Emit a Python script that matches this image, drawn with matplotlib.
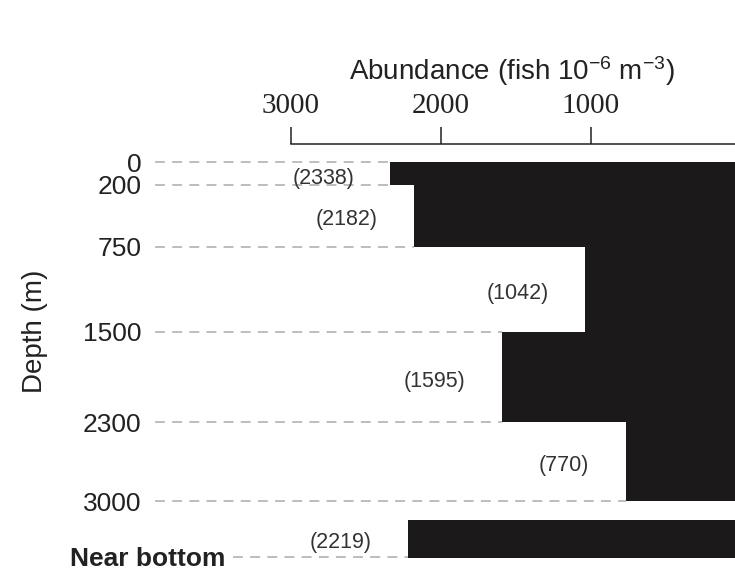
import matplotlib
matplotlib.use('Agg')
import matplotlib.pyplot as plt
import matplotlib.transforms as mtransforms
import numpy as np

# ── Data ──────────────────────────────────────────────────────────────────────
DEPTH_EDGES = [0, 200, 750, 1500, 2300, 3000]        # layer boundaries (m)
ABUNDANCE = [2338, 2182, 1042, 1595, 770]            # fish 10^-6 m^-3 per layer
NEAR_BOTTOM_ABUNDANCE = 2219
TOP_TICKS = [3000, 2000, 1000]
DEPTH_TICK_LABELS = ['0', '200', '750', '1500', '2300', '3000']
NEAR_BOTTOM_LABEL = 'Near bottom'

# ── Layout / style ────────────────────────────────────────────────────────────
NB_TICK = 3490            # where the near-bottom row sits on the depth axis
NB_BAR = (3165, 3500)     # vertical extent of the near-bottom bar
NB_TEXT_X = 3440          # right edge of the near-bottom label (data units)
LINE_START = 3905
BAR_COLOR = '#1b1919'
GRID_COLOR = '#b8b8b8'
TEXT_COLOR = '#222222'
SANS = 'Liberation Sans'
SERIF = 'Liberation Serif'

plt.rcParams['font.family'] = SANS
plt.rcParams['mathtext.fontset'] = 'custom'
plt.rcParams['mathtext.rm'] = SANS
plt.rcParams['mathtext.it'] = SANS + ':italic'
plt.rcParams['mathtext.bf'] = SANS + ':bold'

W, H = 735, 587
fig = plt.figure(figsize=(W / 100, H / 100), dpi=100)
ax = fig.add_axes([150 / W, 1 - 569 / H, 585 / W, 425 / H])

ax.set_xlim(3940, 40)
ax.set_ylim(3600, -160)

# layered profile bars, drawn from zero toward larger abundance
edges = np.array(DEPTH_EDGES, dtype=float)
centers = (edges[:-1] + edges[1:]) / 2
heights = np.diff(edges)
ax.barh(centers, ABUNDANCE, height=heights, left=0, color=BAR_COLOR,
        edgecolor='none', zorder=2)
nb_center = sum(NB_BAR) / 2
ax.barh([nb_center], [NEAR_BOTTOM_ABUNDANCE], height=NB_BAR[1] - NB_BAR[0],
        left=0, color=BAR_COLOR, edgecolor='none', zorder=2)

# dashed leader lines from each depth label to the bar edge
dash = dict(color=GRID_COLOR, lw=1.3, linestyle=(0, (5.5, 4.0)), zorder=1)
for i, d in enumerate(DEPTH_EDGES):
    adj = [ABUNDANCE[j] for j in (i - 1, i) if 0 <= j < len(ABUNDANCE)]
    ax.plot([LINE_START, max(adj)], [d, d], **dash)
ax.plot([NB_TEXT_X - 50, NEAR_BOTTOM_ABUNDANCE], [NB_TICK, NB_TICK], **dash)

# value labels in parentheses, to the left of each bar
label_y = list(centers) + [nb_center]
label_y[0] += 10
label_vals = list(ABUNDANCE) + [NEAR_BOTTOM_ABUNDANCE]
for v, y in zip(label_vals, label_y):
    ax.annotate(f'({v})', xy=(v, y), xytext=(-26, -3), textcoords='offset points',
                ha='right', va='center', fontsize=15.5, color='#333333', zorder=3)

# depth axis labels
ax.set_yticks(DEPTH_EDGES)
ax.set_yticklabels(DEPTH_TICK_LABELS)
ax.tick_params(axis='y', length=0, pad=6, labelsize=19, labelcolor=TEXT_COLOR)
ax.text(NB_TEXT_X, NB_TICK, NEAR_BOTTOM_LABEL, ha='right', va='center_baseline',
        fontsize=19, fontweight='bold', color=TEXT_COLOR)

# abundance axis on top, running right-to-left from 3000
ax.xaxis.tick_top()
ax.set_xticks(TOP_TICKS)
ax.set_xticklabels([str(t) for t in TOP_TICKS])
ax.tick_params(axis='x', direction='out', length=12, width=1.1, pad=6,
               labelsize=21, labelcolor=TEXT_COLOR, color='#222222')
for lab in ax.get_xticklabels():
    lab.set_fontfamily(SERIF)

for side in ('left', 'right', 'bottom'):
    ax.spines[side].set_visible(False)
ax.spines['top'].set_bounds(3000, 0)
ax.spines['top'].set_linewidth(1.1)
ax.spines['top'].set_color('#222222')

trans = mtransforms.blended_transform_factory(ax.transData, fig.transFigure)
ax.text(1530, 1 - 80 / H, r'Abundance (fish 10$^{-6}$ m$^{-3}$)', transform=trans,
        ha='center', va='baseline', fontsize=20, color=TEXT_COLOR)

fig.text(35 / W, 1 - 331 / H, 'Depth (m)', rotation=90, ha='center', va='center',
         fontsize=20, color=TEXT_COLOR)

fig.savefig('out.png', dpi=100)
